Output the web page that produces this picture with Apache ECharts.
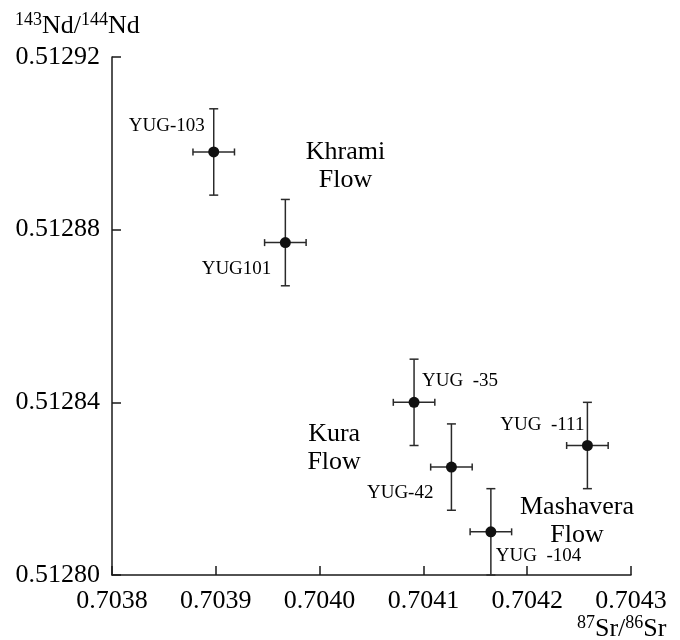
<!DOCTYPE html>
<html><head><meta charset="utf-8">
<script src="https://cdn.jsdelivr.net/npm/echarts@6/dist/echarts.min.js"></script>
<style>html,body{margin:0;padding:0;background:#fff}#c{width:680px;height:640px}</style>
</head><body><div id="c"></div>
<script>
// ---- data ----
const sampleNames = ['YUG-103', 'YUG101', 'YUG  -35', 'YUG-42', 'YUG  -104', 'YUG  -111'];
const srRatio = [0.703898, 0.703967, 0.704091, 0.704127, 0.704165, 0.704258];
const ndRatio = [0.512898, 0.512877, 0.512840, 0.512825, 0.512810, 0.512830];
const srError = [0.000020, 0.000020, 0.000020, 0.000020, 0.000020, 0.000020];
const ndError = [0.000010, 0.000010, 0.000010, 0.000010, 0.000010, 0.000010];
const flowNames = ['Khrami\nFlow', 'Kura\nFlow', 'Mashavera\nFlow'];
const flowSr = [0.704025, 0.704014, 0.704248];
const flowNd = [0.5128946, 0.5128294, 0.5128125];
const xMin = 0.7038, xMax = 0.7043, xStep = 0.0001;
const yMin = 0.51280, yMax = 0.51292, yStep = 0.00004;

// ---- label placement (style, not data) ----
const labelPlace = [
  {align: 'right', offset: [-9, -26]},
  {align: 'right', offset: [-14, 26]},
  {align: 'left', offset: [8, -21]},
  {align: 'right', offset: [-18, 26]},
  {align: 'left', offset: [5, 24]},
  {align: 'right', offset: [-3, -20]}
];

const FONT = '"Liberation Serif", "Times New Roman", serif';
const INK = '#1a1a1a';
const TXT = '#000';

const chart = echarts.init(document.getElementById('c'), null, {renderer: 'canvas'});

const errData = srRatio.map((x, i) => [x, ndRatio[i], srError[i], ndError[i]]);
const ptData = srRatio.map((x, i) => ({
  value: [x, ndRatio[i]],
  name: sampleNames[i],
  label: {align: labelPlace[i].align, offset: labelPlace[i].offset}
}));
const flowData = flowSr.map((x, i) => ({value: [x, flowNd[i]], name: flowNames[i]}));

chart.setOption({
  backgroundColor: '#fff',
  animation: false,
  grid: {left: 112, right: 49, top: 57, bottom: 65, containLabel: false},
  xAxis: {
    type: 'value', min: xMin, max: xMax, interval: xStep,
    splitLine: {show: false},
    axisLine: {show: true, onZero: false, lineStyle: {color: INK, width: 1.5}},
    axisTick: {show: true, inside: true, length: 9, lineStyle: {color: INK, width: 1.5}},
    axisLabel: {margin: 13, color: TXT, fontFamily: FONT, fontSize: 26,
      formatter: v => v.toFixed(4)}
  },
  yAxis: {
    type: 'value', min: yMin, max: yMax, interval: yStep,
    splitLine: {show: false},
    axisLine: {show: true, onZero: false, lineStyle: {color: INK, width: 1.5}},
    axisTick: {show: true, inside: true, length: 9, lineStyle: {color: INK, width: 1.5}},
    axisLabel: {margin: 12, color: TXT, fontFamily: FONT, fontSize: 26,
      formatter: v => v.toFixed(5)}
  },
  graphic: [
    {type: 'text', left: 15, top: 11, style: {
      text: '{s|143}{m|Nd/}{s|144}{m|Nd}',
      rich: {
        s: {fontFamily: FONT, fontSize: 18, fill: TXT, verticalAlign: 'top', lineHeight: 30},
        m: {fontFamily: FONT, fontSize: 26, fill: TXT, lineHeight: 30}
      }
    }},
    {type: 'text', left: 577, top: 614, style: {
      text: '{s|87}{m|Sr/}{s|86}{m|Sr}',
      rich: {
        s: {fontFamily: FONT, fontSize: 18, fill: TXT, verticalAlign: 'top', lineHeight: 30},
        m: {fontFamily: FONT, fontSize: 26, fill: TXT, lineHeight: 30}
      }
    }}
  ],
  series: [
    {
      type: 'custom',
      clip: false,
      data: errData,
      z: 2,
      renderItem: function (params, api) {
        const x = api.value(0), y = api.value(1), ex = api.value(2), ey = api.value(3);
        const l = api.coord([x - ex, y]), r = api.coord([x + ex, y]);
        const t = api.coord([x, y + ey]), b = api.coord([x, y - ey]);
        const st = {stroke: '#2a2a2a', lineWidth: 1.5, fill: null};
        const capV = 4.5, capH = 3.5;
        return {type: 'group', children: [
          {type: 'line', shape: {x1: t[0], y1: t[1], x2: b[0], y2: b[1]}, style: st},
          {type: 'line', shape: {x1: t[0] - capV, y1: t[1], x2: t[0] + capV, y2: t[1]}, style: st},
          {type: 'line', shape: {x1: b[0] - capV, y1: b[1], x2: b[0] + capV, y2: b[1]}, style: st},
          {type: 'line', shape: {x1: l[0], y1: l[1], x2: r[0], y2: r[1]}, style: st},
          {type: 'line', shape: {x1: l[0], y1: l[1] - capH, x2: l[0], y2: l[1] + capH}, style: st},
          {type: 'line', shape: {x1: r[0], y1: r[1] - capH, x2: r[0], y2: r[1] + capH}, style: st}
        ]};
      }
    },
    {
      type: 'scatter',
      z: 3,
      symbol: 'circle',
      symbolSize: 11,
      itemStyle: {color: '#111', opacity: 1},
      data: ptData,
      label: {
        show: true, position: 'inside', verticalAlign: 'middle',
        formatter: p => p.name,
        fontFamily: FONT, fontSize: 19, color: TXT
      }
    },
    {
      type: 'scatter',
      z: 3,
      symbolSize: 0,
      silent: true,
      itemStyle: {color: '#000', opacity: 1},
      data: flowData,
      label: {
        show: true, position: 'inside', align: 'center', verticalAlign: 'middle',
        formatter: p => p.name,
        fontFamily: FONT, fontSize: 26, lineHeight: 28, color: TXT
      }
    }
  ]
});
</script>
</body></html>
